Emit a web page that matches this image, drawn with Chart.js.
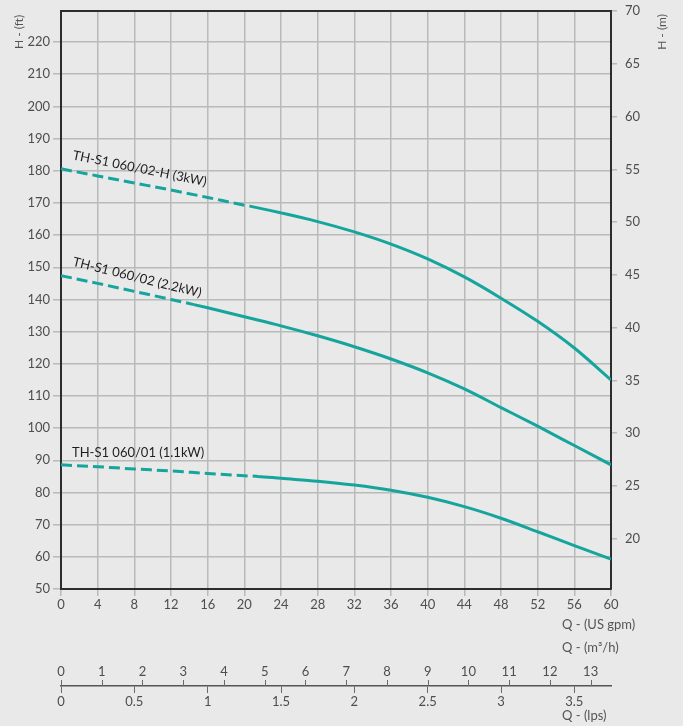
<!DOCTYPE html>
<html>
<head>
<meta charset="utf-8">
<script src="https://cdn.jsdelivr.net/npm/chart.js@4.4.1/dist/chart.umd.min.js"></script>
<style>
  html, body { margin: 0; padding: 0; background: #e8e9e8; }
  canvas { display: block; }
</style>
</head>
<body>
<canvas id="pumpCurves" width="683" height="726"></canvas>
<script>
// Flow rate (US gpm) at which each head value was taken
const flowGpm = [0, 4, 8, 12, 16, 20, 24, 28, 32, 36, 40, 44, 48, 52, 56, 60];

// Head (ft) for each pump model
const headS1_060_02H = [180.6, 178.4, 176.2, 174.0, 171.7, 169.3, 166.9, 164.2, 161.0, 157.2, 152.6, 147.0, 140.4, 133.2, 124.9, 115.0];
const headS1_060_02  = [147.4, 145.0, 142.5, 140.0, 137.4, 134.6, 131.8, 128.7, 125.3, 121.5, 117.2, 112.2, 106.4, 100.6, 94.6, 88.6];
const headS1_060_01  = [88.6, 88.0, 87.3, 86.7, 85.9, 85.2, 84.4, 83.5, 82.3, 80.7, 78.5, 75.6, 72.0, 67.8, 63.5, 59.3];

// Model names
const modelNames = ['TH-S1 060/02-H (3kW)', 'TH-S1 060/02 (2.2kW)', 'TH-S1 060/01 (1.1kW)'];

// Where each curve switches from dashed to solid: flow (gpm) and head (ft)
const dashedUntilGpm = [20.6, 14.5, 21.5];
const headAtDashEnd  = [169.0, 138.4, 85.0];

// Axis ranges
const headRangeM = [15.24, 70];        // right axis, metres
const flowRangeM3h = [0, 13.5];        // secondary flow axis, m3/h
const flowRangeLps = [0, 3.75];        // secondary flow axis, l/s

const FT_PER_M = 1 / 0.3048;

const TEAL = '#15a59d';
const GRID = '#b9baba';
const FRAME = '#2d2d2d';
const TICK_TEXT = '#4e4e4e';
const FONT = 'Lato, "Open Sans", sans-serif';

function curvePoints(heads, breakQ, breakH) {
  const pts = flowGpm.map((q, i) => ({ x: q, y: heads[i] }));
  pts.push({ x: breakQ, y: breakH });
  pts.sort((a, b) => a.x - b.x);
  return pts;
}

const headSeries = [headS1_060_02H, headS1_060_02, headS1_060_01];

const datasets = headSeries.map((heads, i) => ({
  label: modelNames[i],
  data: curvePoints(heads, dashedUntilGpm[i], headAtDashEnd[i]),
  borderColor: TEAL,
  borderWidth: 3,
  borderCapStyle: 'butt',
  pointRadius: 0,
  fill: false,
  cubicInterpolationMode: 'monotone',
  xAxisID: 'x',
  yAxisID: 'y',
  segment: {
    borderDash: ctx => (ctx.p1.parsed.x <= dashedUntilGpm[i] + 1e-6 ? [11, 5] : undefined)
  }
}));

// Curve name placement: anchor in data units and text angle
const curveLabelStyle = [
  { q: 1.2, h: 183.6, angle: 11.4 },
  { q: 1.2, h: 150.5, angle: 13.9 },
  { q: 1.2, h: 91.0, angle: 0 }
];

const decorPlugin = {
  id: 'decor',
  beforeDraw(chart) {
    const { ctx, width, height } = chart;
    ctx.save();
    ctx.fillStyle = '#e8e9e8';
    ctx.fillRect(0, 0, width, height);
    ctx.restore();
  },
  afterDraw(chart) {
    const { ctx, chartArea } = chart;
    const sx = chart.scales.x, sy = chart.scales.y;
    const m3 = chart.scales.xm3, lps = chart.scales.xlps;
    ctx.save();

    // top edge of the plot frame
    ctx.strokeStyle = FRAME;
    ctx.lineWidth = 2;
    ctx.beginPath();
    ctx.moveTo(chartArea.left - 1, chartArea.top);
    ctx.lineTo(chartArea.right + 1, chartArea.top);
    ctx.stroke();

    // m3/h tick marks rise above the shared flow line
    ctx.strokeStyle = '#6a6a6a';
    ctx.lineWidth = 1;
    m3.ticks.forEach(t => {
      const px = Math.round(m3.getPixelForValue(t.value)) + 0.5;
      ctx.beginPath();
      ctx.moveTo(px, lps.top - 6);
      ctx.lineTo(px, lps.top);
      ctx.stroke();
    });

    // curve names
    ctx.fillStyle = '#1f1f1f';
    ctx.font = '13px ' + FONT;
    ctx.textAlign = 'left';
    ctx.textBaseline = 'alphabetic';
    curveLabelStyle.forEach((s, i) => {
      ctx.save();
      ctx.translate(sx.getPixelForValue(s.q), sy.getPixelForValue(s.h));
      ctx.rotate(s.angle * Math.PI / 180);
      ctx.fillText(modelNames[i], 0, 0);
      ctx.restore();
    });

    // axis titles
    ctx.fillStyle = '#555555';
    ctx.font = '12px ' + FONT;
    ctx.textAlign = 'center';
    ctx.textBaseline = 'middle';
    [['H - (ft)', 19], ['H - (m)', 662]].forEach(([txt, x]) => {
      ctx.save();
      ctx.translate(x, 32);
      ctx.rotate(-Math.PI / 2);
      ctx.fillText(txt, 0, 0);
      ctx.restore();
    });

    ctx.font = '13px ' + FONT;
    ctx.textAlign = 'left';
    const tx = chartArea.right - 49;
    ctx.fillText('Q - (US gpm)', tx, 625);
    ctx.fillText('Q - (m\u00B3/h)', tx, 648);
    ctx.fillText('Q - (lps)', tx, 716);
    ctx.restore();
  }
};

const tickFont = { family: FONT, size: 13 };
const plainNumber = v => String(Number(v));

// vertical axes: fixed width, and no extra room reserved for the end labels
const fixVertical = w => s => { s.width = w; s.paddingTop = 0; s.paddingBottom = 0; };

new Chart(document.getElementById('pumpCurves'), {
  type: 'line',
  data: { datasets },
  plugins: [decorPlugin],
  options: {
    responsive: false,
    animation: false,
    devicePixelRatio: 1,
    layout: { padding: { top: 11, left: 0, right: 0, bottom: 0 } },
    plugins: { legend: { display: false }, tooltip: { enabled: false } },
    scales: {
      x: {
        type: 'linear', position: 'bottom', weight: 0,
        min: 0, max: 60,
        ticks: { stepSize: 4, autoSkip: false, maxRotation: 0, padding: 1, color: TICK_TEXT, font: tickFont },
        grid: { color: GRID, lineWidth: 1.5, tickLength: 7 },
        border: { color: FRAME, width: 2 },
        afterFit: s => { s.height = 66; }
      },
      xm3: {
        type: 'linear', position: 'bottom', weight: 1,
        min: flowRangeM3h[0], max: flowRangeM3h[1],
        ticks: { stepSize: 1, includeBounds: false, autoSkip: false, maxRotation: 0, padding: 9, color: TICK_TEXT, font: tickFont, callback: plainNumber },
        grid: { drawOnChartArea: false, drawTicks: false },
        border: { display: false },
        afterFit: s => { s.height = 31; }
      },
      xlps: {
        type: 'linear', position: 'bottom', weight: 2,
        min: flowRangeLps[0], max: flowRangeLps[1],
        ticks: { stepSize: 0.5, includeBounds: false, autoSkip: false, maxRotation: 0, padding: 1, color: TICK_TEXT, font: tickFont, callback: plainNumber },
        grid: { drawOnChartArea: false, tickLength: 7, color: '#6a6a6a', lineWidth: 1 },
        border: { color: '#555555', width: 1.5 },
        afterFit: s => { s.height = 40; }
      },
      y: {
        type: 'linear', position: 'left',
        min: 50, max: headRangeM[1] * FT_PER_M,
        ticks: { stepSize: 10, includeBounds: false, padding: 3, color: TICK_TEXT, font: tickFont },
        grid: { color: GRID, lineWidth: 1.5, tickLength: 8 },
        border: { color: FRAME, width: 2 },
        afterFit: fixVertical(61)
      },
      y2: {
        type: 'linear', position: 'right',
        min: headRangeM[0], max: headRangeM[1],
        ticks: { stepSize: 5, includeBounds: false, padding: 8, color: TICK_TEXT, font: tickFont },
        grid: { drawOnChartArea: false, tickLength: 6, color: GRID, lineWidth: 1.5 },
        border: { color: FRAME, width: 2 },
        afterFit: fixVertical(72)
      }
    }
  }
});
</script>
</body>
</html>
